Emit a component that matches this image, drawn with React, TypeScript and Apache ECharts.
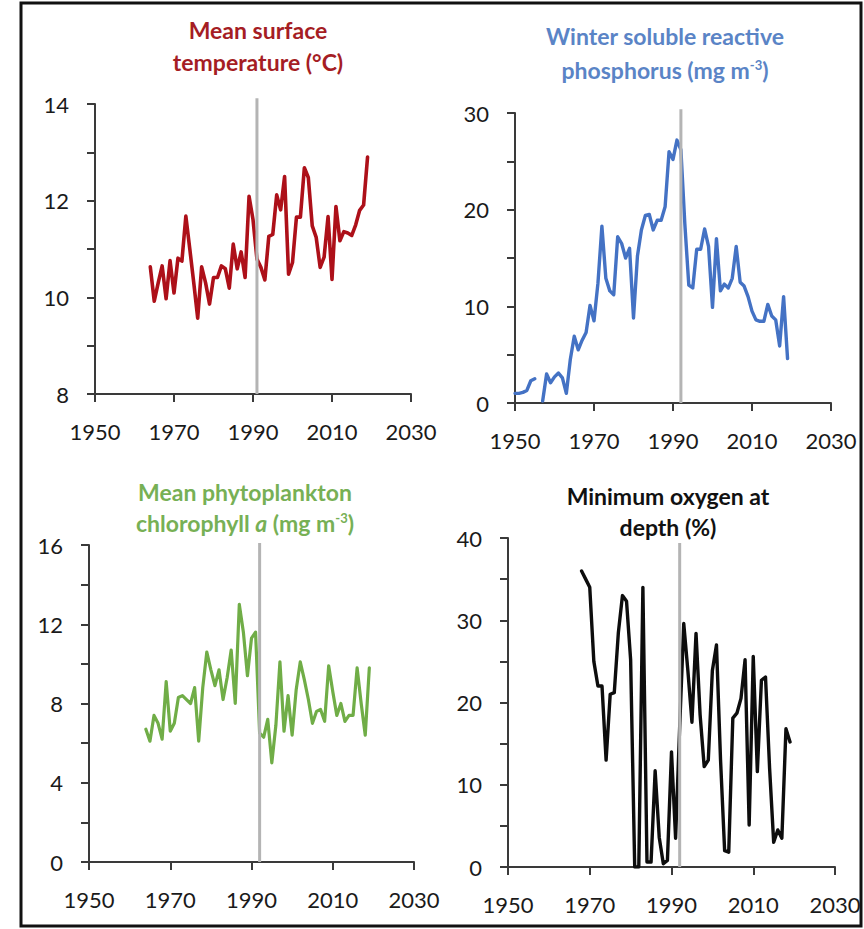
import { useEffect, useRef } from 'react';
import * as echarts from 'echarts';

// Annual series, one value per year from the first year given
const temperatureStart = 1964;
const temperature = [
  10.63, 9.92, 10.3, 10.65, 9.97, 10.76, 10.09, 10.81, 10.75, 11.68,
  11.0, 10.3, 9.57, 10.63, 10.3, 9.86, 10.41, 10.41, 10.65, 10.59,
  10.19, 11.1, 10.59, 10.94, 10.41, 12.09, 11.61, 10.79, 10.62, 10.36,
  11.26, 11.3, 12.12, 11.81, 12.5, 10.48, 10.72, 11.66, 11.66, 12.68,
  12.48, 11.48, 11.24, 10.62, 10.83, 11.67, 10.37, 11.88, 11.17, 11.36,
  11.33, 11.28, 11.5, 11.8, 11.91, 12.9,
];

const phosphorusStart = 1950;
const phosphorus: (number | null)[] = [
  1.0, 1.0, 1.1, 1.3, 2.3, 2.5, null, 0.2, 3.0, 2.1,
  2.7, 3.1, 2.6, 1.0, 4.5, 6.9, 5.5, 6.5, 7.3, 10.1,
  8.5, 12.4, 18.3, 12.9, 11.6, 11.2, 17.2, 16.5, 15.0, 16.0,
  8.8, 15.2, 17.9, 19.4, 19.5, 17.9, 18.9, 18.9, 20.3, 26.0,
  25.2, 27.2, 26.2, 18.5, 12.2, 11.9, 15.9, 15.9, 18.0, 16.2,
  9.9, 17.0, 11.6, 12.3, 11.9, 12.9, 16.2, 12.5, 12.1, 11.0,
  9.5, 8.6, 8.45, 8.45, 10.2, 9.0, 8.6, 5.9, 11.0, 4.6,
];

const chlorophyllStart = 1964;
const chlorophyll = [
  6.7, 6.1, 7.4, 7.0, 6.2, 9.1, 6.6, 7.0, 8.3, 8.4,
  8.2, 8.0, 8.8, 6.1, 8.8, 10.6, 9.7, 8.9, 9.7, 8.2,
  9.3, 10.7, 8.0, 13.0, 11.6, 9.4, 11.3, 11.6, 6.5, 6.3,
  7.2, 5.0, 6.9, 10.1, 6.6, 8.4, 6.4, 8.7, 10.1, 9.2,
  8.2, 7.0, 7.6, 7.7, 7.1, 9.9, 8.6, 7.4, 8.0, 7.1,
  7.4, 7.4, 9.8, 8.0, 6.4, 9.8,
];

const oxygenStart = 1968;
const oxygen = [
  36.0, 35.0, 34.0, 25.0, 22.0, 22.0, 13.0, 21.0, 21.2, 28.5,
  33.0, 32.3, 25.2, 0, 0, 34.0, 0.6, 0.6, 11.7, 3.6,
  0.4, 0.8, 14.0, 3.5, 17.0, 29.6, 23.9, 17.6, 28.4, 18.5,
  12.2, 13.0, 23.9, 27.0, 13.0, 2.0, 1.8, 18.1, 18.7, 20.5,
  25.2, 5.1, 25.6, 11.6, 22.7, 23.1, 12.0, 3.0, 4.5, 3.5,
  16.8, 15.2,
];

// Year-axis ticks
const yearTicks = [1950, 1970, 1990, 2010, 2030];

const FONT = 'Lato, "Open Sans", "DejaVu Sans", sans-serif';

type Panel = {
  start: number;
  values: (number | null)[];
  color: string;
  width: number;
  grid: { left: number; top: number; width: number; height: number };
  yMin: number;
  yMax: number;
  yStep: number;
  labelStep: number;
  shiftYear: number;
  shiftTop: number;
};

const panels: Panel[] = [
  {
    start: temperatureStart, values: temperature, color: '#ad1019', width: 3.6,
    grid: { left: 95, top: 104, width: 316, height: 290 },
    yMin: 8, yMax: 14, yStep: 1, labelStep: 2, shiftYear: 1991, shiftTop: 14.12,
  },
  {
    start: phosphorusStart, values: phosphorus, color: '#4472c4', width: 3.4,
    grid: { left: 515, top: 113, width: 316, height: 290 },
    yMin: 0, yMax: 30, yStep: 5, labelStep: 10, shiftYear: 1992, shiftTop: 30.4,
  },
  {
    start: chlorophyllStart, values: chlorophyll, color: '#70ad47', width: 3.2,
    grid: { left: 89, top: 545, width: 325, height: 317 },
    yMin: 0, yMax: 16, yStep: 2, labelStep: 4, shiftYear: 1992, shiftTop: 16.1,
  },
  {
    start: oxygenStart, values: oxygen, color: '#0d0d0d', width: 3.4,
    grid: { left: 508, top: 538, width: 327, height: 329 },
    yMin: 0, yMax: 40, yStep: 5, labelStep: 10, shiftYear: 1992, shiftTop: 39.4,
  },
];

function titleText(x: number, y: number, text: string, color: string) {
  return {
    type: 'text',
    x,
    y,
    silent: true,
    style: {
      text,
      align: 'center',
      verticalAlign: 'middle',
      rich: {
        b: { fontFamily: FONT, fontWeight: 'bold', fontSize: 23, fill: color },
        i: { fontFamily: FONT, fontWeight: 'bold', fontStyle: 'italic', fontSize: 23, fill: color },
        s: { fontFamily: FONT, fontWeight: 'bold', fontSize: 13, fill: color, verticalAlign: 'top' },
      },
    },
  };
}

export default function App() {
  const ref = useRef<HTMLDivElement>(null);

  useEffect(() => {
    if (!ref.current) return;
    const chart = echarts.init(ref.current, undefined, { renderer: 'svg' });

    const axisColor = '#3a3a3a';

    const option: any = {
      animation: false,
      backgroundColor: '#ffffff',
      grid: panels.map((p) => ({ ...p.grid, containLabel: false, outerBoundsMode: 'none' })),
      xAxis: panels.map((p, i) => ({
        type: 'value',
        gridIndex: i,
        min: yearTicks[0],
        max: yearTicks[yearTicks.length - 1],
        interval: yearTicks[1] - yearTicks[0],
        axisLine: { show: true, onZero: false, lineStyle: { color: axisColor, width: 2 } },
        axisTick: { show: true, length: 8, lineStyle: { color: axisColor, width: 2 } },
        axisLabel: {
          margin: 26,
          color: '#1a1a1a',
          fontFamily: FONT,
          fontSize: 22,
          formatter: (v: number) => String(v),
        },
        splitLine: { show: false },
      })),
      yAxis: panels.map((p, i) => ({
        type: 'value',
        gridIndex: i,
        min: p.yMin,
        max: p.yMax,
        interval: p.yStep,
        axisLine: { show: true, onZero: false, lineStyle: { color: axisColor, width: 2 } },
        axisTick: { show: true, length: 8, lineStyle: { color: axisColor, width: 2 } },
        axisLabel: {
          margin: 26,
          color: '#1a1a1a',
          fontFamily: FONT,
          fontSize: 22,
          formatter: (v: number) => (Math.round(v) % p.labelStep === 0 ? String(v) : ''),
        },
        splitLine: { show: false },
      })),
      series: panels.flatMap((p, i) => [
        {
          type: 'line',
          xAxisIndex: i,
          yAxisIndex: i,
          data: p.values.map((v, k) => [p.start + k, v === null ? '-' : v]),
          symbol: 'none',
          connectNulls: false,
          lineStyle: { color: p.color, width: p.width, join: 'round', cap: 'round' },
          itemStyle: { color: p.color },
          z: 2,
        },
        {
          type: 'line',
          xAxisIndex: i,
          yAxisIndex: i,
          data: [
            [p.shiftYear, p.yMin],
            [p.shiftYear, p.shiftTop],
          ],
          symbol: 'none',
          clip: false,
          silent: true,
          lineStyle: { color: '#b4b4b4', width: 3 },
          z: 3,
        },
      ]),
      graphic: [
        {
          type: 'rect',
          silent: true,
          shape: { x: 21, y: 3, width: 840, height: 923 },
          style: { fill: 'none', stroke: '#111', lineWidth: 3 },
        },
        titleText(258, 30, '{b|Mean surface}', '#a51d24'),
        titleText(258, 62, '{b|temperature (°C)}', '#a51d24'),
        titleText(665, 36, '{b|Winter soluble reactive}', '#5a84c6'),
        titleText(665, 70, '{b|phosphorus (mg m}{s|-3}{b|)}', '#5a84c6'),
        titleText(245, 492, '{b|Mean phytoplankton}', '#77b055'),
        titleText(245, 523, '{b|chlorophyll }{i|a}{b| (mg m}{s|-3}{b|)}', '#77b055'),
        titleText(668, 496, '{b|Minimum oxygen at}', '#111111'),
        titleText(668, 527, '{b|depth (%)}', '#111111'),
      ],
    };

    chart.setOption(option);
    return () => chart.dispose();
  }, []);

  return (
    <div
      ref={ref}
      style={{ position: 'absolute', left: 0, top: 0, width: 864, height: 929, background: '#fff' }}
    />
  );
}
